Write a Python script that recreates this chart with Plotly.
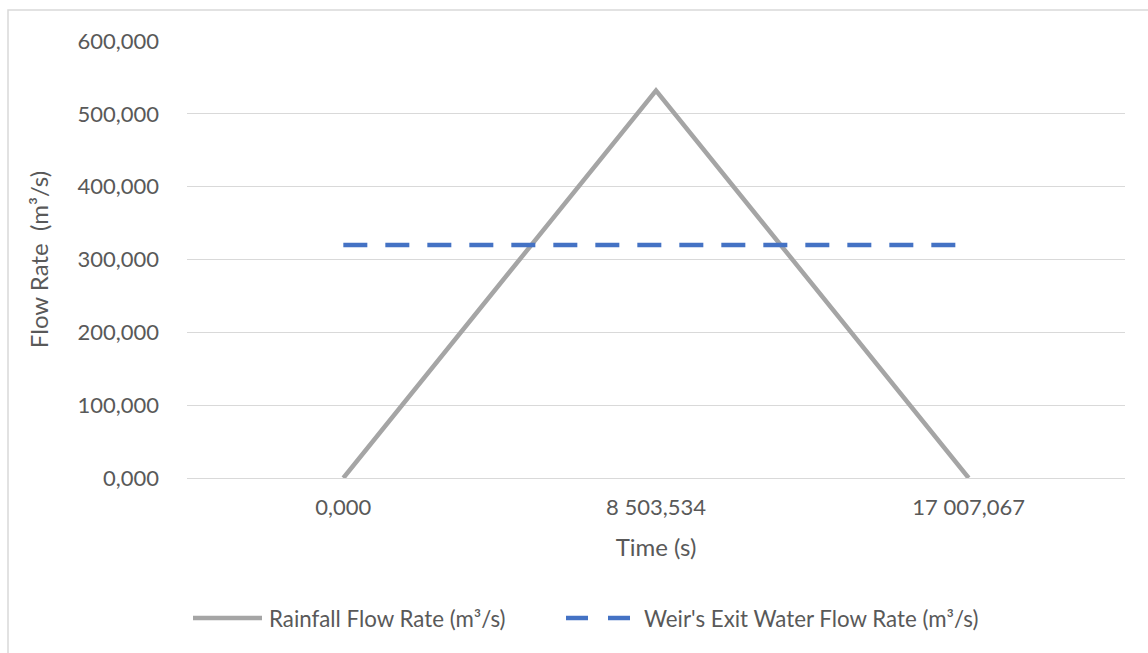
import plotly.graph_objects as go

# Time categories (s) and flow rates (m³/s)
time_labels = ["0,000", "8 503,534", "17 007,067"]
rainfall_flow = [0.0, 532.0, 0.0]
weir_exit_flow = [320.0, 320.0, 320.0]

y_ticks = [0, 100, 200, 300, 400, 500, 600]

series_names = ["Rainfall Flow Rate (m³/s)", "Weir's Exit Water Flow Rate (m³/s)"]
series_colors = ["#A5A5A5", "#4472C4"]

FONT = "Lato, Calibri, 'Open Sans', sans-serif"
TXT = "#595959"

W, H = 1148, 653
L, R, T, B = 187, 23, 41, 175
PW, PH = W - L - R, H - T - B


def px_x(px):
    return (px - L) / PW


def px_y(py):
    return (H - B - py) / PH


fig = go.Figure()
fig.add_trace(go.Scatter(
    x=time_labels, y=rainfall_flow, mode="lines",
    name=series_names[0],
    line=dict(color=series_colors[0], width=4.5),
))
fig.add_trace(go.Scatter(
    x=time_labels, y=weir_exit_flow, mode="lines",
    name=series_names[1],
    line=dict(color=series_colors[1], width=4.5, dash="24px,18px"),
))

fig.update_layout(
    width=W, height=H,
    margin=dict(l=L, r=R, t=T, b=B),
    paper_bgcolor="white", plot_bgcolor="white",
    separators=", ",
    font=dict(family=FONT, size=22, color=TXT),
    showlegend=False,
    xaxis=dict(
        type="category", range=[-0.5, 2.5],
        showgrid=False, showline=False, zeroline=False,
        ticks="", ticklabelstandoff=14,
        tickfont=dict(size=22, color=TXT),
        title=dict(text="Time (s)", font=dict(size=24, color=TXT), standoff=20),
    ),
    yaxis=dict(
        range=[0, 600], tickvals=y_ticks, tickformat=".3f",
        showgrid=True, gridcolor="#D9D9D9", gridwidth=1,
        zeroline=True, zerolinecolor="#D9D9D9", zerolinewidth=1,
        showline=False, ticks="", ticklabelstandoff=27,
        tickfont=dict(size=22, color=TXT),
        title=dict(text="Flow Rate  (m³/s)", font=dict(size=24, color=TXT), standoff=22),
    ),
)

# Legend drawn below the plot: solid swatch, dashed swatch, and labels
leg_y = px_y(618)
fig.add_shape(type="line", xref="paper", yref="paper",
              x0=px_x(193), x1=px_x(262), y0=leg_y, y1=leg_y,
              line=dict(color=series_colors[0], width=4.5))
fig.add_annotation(xref="paper", yref="paper", x=px_x(267), y=leg_y,
                   xanchor="left", yanchor="middle", showarrow=False,
                   text=series_names[0], font=dict(size=22.3, color=TXT))
for x0, x1 in [(566, 588), (608, 630)]:
    fig.add_shape(type="line", xref="paper", yref="paper",
                  x0=px_x(x0), x1=px_x(x1), y0=leg_y, y1=leg_y,
                  line=dict(color=series_colors[1], width=4.5))
fig.add_annotation(xref="paper", yref="paper", x=px_x(642), y=leg_y,
                   xanchor="left", yanchor="middle", showarrow=False,
                   text=series_names[1], font=dict(size=22.3, color=TXT))

# Light border around the chart area
fig.add_shape(
    type="rect", xref="paper", yref="paper",
    x0=px_x(8), x1=px_x(W + 20), y0=px_y(H + 20), y1=px_y(10),
    line=dict(color="#D9D9D9", width=1.5), fillcolor="rgba(0,0,0,0)",
    layer="below",
)

fig.write_html("out.html")
